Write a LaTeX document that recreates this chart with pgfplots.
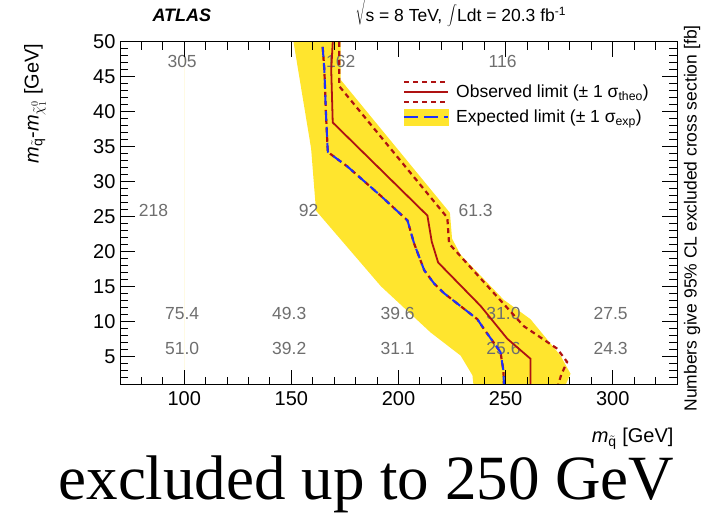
\documentclass[border=0pt]{standalone}
\usepackage{pgfplots}
\pgfplotsset{compat=1.18}
\usepackage{fontspec}
\setmainfont{Liberation Sans}
\newfontfamily\capfont{Liberation Serif}
\definecolor{band}{RGB}{255,229,46}
\definecolor{obsred}{RGB}{175,18,18}
\definecolor{expblue}{RGB}{30,50,250}
\definecolor{numgray}{RGB}{110,110,110}
\begin{document}
\begin{tikzpicture}
\useasboundingbox (0pt,0pt) rectangle (707pt,516pt);
\begin{axis}[
  at={(120pt,131pt)}, anchor=south west,
  scale only axis, width=557pt, height=343pt,
  xmin=70, xmax=330, ymin=1, ymax=50,
  xtick={100,150,200,250,300},
  ytick={5,10,...,50},
  minor xtick={70,80,...,330},
  minor ytick={1,2,...,50},
  xtick pos=both, ytick pos=both,
  tick align=inside,
  major tick length=15pt, minor tick length=8pt,
  every major tick/.style={draw=black, line width=1pt},
  every minor tick/.style={draw=black, line width=1pt},
  axis line style={line width=1pt},
  axis on top,
  /pgf/number format/assume math mode=true,
  ticklabel style={font=\fontsize{20}{20}\selectfont},
  xticklabel style={yshift=-3pt},
  yticklabel style={xshift=-1pt},
  legend style={draw=none, fill=none, font=\fontsize{17.5}{19}\selectfont,
    at={(0.508,0.887)}, anchor=north west, row sep=5pt, inner sep=0pt,
    /tikz/every odd column/.append style={column sep=5pt}},
  legend cell align=left,
  clip=true,
]
\addlegendimage{legend image code/.code={
  \draw[obsred, line width=2pt, dash pattern=on 5pt off 4pt] (0pt,10pt) -- (44pt,10pt);
  \draw[obsred, line width=2pt] (0pt,0pt) -- (44pt,0pt);
  \draw[obsred, line width=2pt, dash pattern=on 5pt off 4pt] (0pt,-10pt) -- (44pt,-10pt);
}}
\addlegendimage{legend image code/.code={
  \fill[band] (0pt,-8pt) rectangle (44pt,8pt);
  \draw[expblue, line width=2pt, dash pattern=on 14pt off 6pt] (0pt,0pt) -- (44pt,0pt);
}}
\legend{Observed limit (± 1 σ\textsubscript{theo}),Expected limit (± 1 σ\textsubscript{exp})}

\addplot[forget plot, draw={rgb,255:red,255;green,250;blue,228}, line width=1pt] coordinates {(100,1) (100,50)};

\addplot[forget plot, fill=band, draw=none] coordinates {
 (151,50) (159.2,34.8) (161.5,25.9) (191.8,15.1) (215,8.5) (229,5.2) (234.5,2.4) (235,1)
 (278,1) (280.3,2.6) (275.6,5.2) (261.6,10.4) (249,13.2) (229,19.6) (225,21.9) (224,25.6)
 (173,44.6) (173,50)} -- cycle;

\begin{scope}[font=\fontsize{17.5}{19}\selectfont, text=numgray]
\node at (axis cs:99,47.2) {305};
\node at (axis cs:173,47.2) {162};
\node at (axis cs:248.6,47.2) {116};
\node at (axis cs:85.6,26) {218};
\node at (axis cs:158,26) {92};
\node at (axis cs:236,26) {61.3};
\node at (axis cs:99,11.2) {75.4};
\node at (axis cs:149,11.2) {49.3};
\node at (axis cs:199.6,11.2) {39.6};
\node at (axis cs:249,11.2) {31.0};
\node at (axis cs:299,11.2) {27.5};
\node at (axis cs:99,6.2) {51.0};
\node at (axis cs:149,6.2) {39.2};
\node at (axis cs:199.6,6.2) {31.1};
\node at (axis cs:249,6.2) {25.6};
\node at (axis cs:299,6.2) {24.3};
\end{scope}

% observed -1 sigma (under expected)
\addplot[forget plot, obsred, line width=2.2pt, dash pattern=on 5pt off 4pt] coordinates {
 (164.6,49.3) (165.4,46) (166.1,40) (167,34.3) (170,33.6) (176.2,32.2) (191.8,28) (201,25.4)
 (204.2,24.5) (207.3,21.2) (212,17.4) (216.6,15.5) (221.3,14.1) (236.8,10.4) (239.9,9)
 (247.6,5.7) (249,3) (249.2,1)};
% expected
\addplot[forget plot, expblue, line width=2pt, dash pattern=on 10pt off 6pt] coordinates {
 (164.6,49.3) (165.4,46) (166.1,40) (167,34.3) (170,33.6) (176.2,32.2) (191.8,28) (201,25.4)
 (204.2,24.5) (207.3,21.2) (212,17.4) (216.6,15.5) (221.3,14.1) (236.8,10.4) (239.9,9)
 (247.6,5.7) (249,3) (249.2,1)};
% observed
\addplot[forget plot, obsred, line width=1.8pt] coordinates {
 (169.3,50) (168.6,46) (169.3,38.5) (213.5,25.2) (215.5,21.5) (218.5,18.5) (238.3,12.3)
 (250.8,7.6) (261.6,4.75) (261.6,1)};
% observed +1 sigma
\addplot[forget plot, obsred, line width=2.2pt, dash pattern=on 5pt off 4pt] coordinates {
 (172.3,50) (172.3,43.7) (222.8,24.9) (223.6,21.2) (258.5,9.4) (274,6.2) (278.7,4.3)
 (276,2.5) (274.5,1)};

\draw[line width=2.5pt] (axis cs:70,1) -- (axis cs:330,1);
\end{axis}

% titles and labels
\node[anchor=base west, font=\fontsize{18}{20}\selectfont\bfseries\itshape] at (149pt,494pt) {ATLAS};
\node[anchor=base west, font=\fontsize{17.5}{20}\selectfont] at (352pt,494pt)
  {$\sqrt{\rule{0pt}{23pt}\mbox{s}}$ = 8 TeV, {\fontsize{24}{24}\selectfont$\displaystyle\int$}Ldt = 20.3 fb$^{\mbox{\fontsize{12}{12}\selectfont -1}}$};
\node[rotate=90, anchor=east, font=\fontsize{20}{22}\selectfont] at (35pt,476pt)
  {\textit{m}$_{\tilde{\mathrm{q}}}$-\textit{m}$_{\tilde{\chi}^{0}_{1}}$ [GeV]};
\node[anchor=base east, font=\fontsize{20}{22}\selectfont] at (677pt,73pt)
  {\textit{m}$_{\tilde{\mathrm{q}}}$ [GeV]};
\node[rotate=90, anchor=west, font=\fontsize{17.5}{20}\selectfont] at (692pt,101pt)
  {Numbers give 95\% CL excluded cross section [fb]};
\node[anchor=base west, font=\capfont\fontsize{63}{66}\selectfont] at (55pt,16pt)
  {excluded up to 250 GeV};
\end{tikzpicture}
\end{document}
